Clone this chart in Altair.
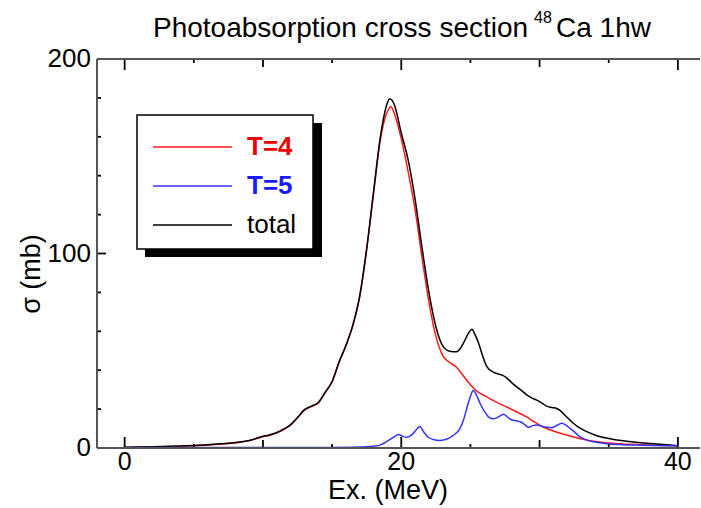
import altair as alt
import pandas as pd

# Photoabsorption cross section of 48Ca (1hw), isospin components and total

# T=4 component
e_t4 = [0, 2, 4, 5, 6, 7, 8, 9, 10, 10.5, 11, 11.5, 12, 12.5, 13, 13.5, 14, 14.5,
        15, 15.5, 16, 16.5, 17, 17.5, 18, 18.5, 19, 19.25, 19.5, 20, 20.5, 21,
        21.5, 22, 22.5, 23, 23.5, 24, 24.5, 25, 25.5, 26, 26.5, 27, 27.5, 28,
        28.5, 29, 29.5, 30, 30.5, 31, 31.5, 32, 33, 34, 35, 36, 37, 38, 39, 40]
s_t4 = [0.3, 0.5, 0.9, 1.2, 1.6, 2.1, 2.6, 3.8, 5.8, 6.6, 7.8, 9.5, 11.8, 15.5,
        19.5, 21.3, 23.2, 28.5, 34, 44, 52.5, 63, 78, 102, 131, 159, 173, 175.5,
        172, 159, 142, 122.5, 98, 75, 57.5, 47.5, 44, 41.5, 37, 32.5, 29, 27,
        25, 23.2, 21.5, 19.8, 18, 16.3, 14, 11.8, 10, 8.7, 7.6, 6.6, 4.7, 3.3,
        2.6, 2.1, 1.8, 1.5, 1.3, 1.1]

# T=5 component
e_t5 = [0, 5, 10, 15, 17, 17.5, 18, 18.5, 19, 19.5, 19.8, 20.1, 20.4, 20.8, 21.1,
        21.35, 21.6, 21.9, 22.3, 22.8, 23.3, 23.8, 24.2, 24.5, 24.8, 25.0, 25.2,
        25.45, 25.7, 26.0, 26.3, 26.6, 26.9, 27.2, 27.4, 27.7, 28.0, 28.3, 28.6,
        28.9, 29.2, 29.5, 29.8, 30.3, 30.9, 31.3, 31.6, 31.9, 32.2, 32.6, 32.9,
        33.4, 33.9, 35, 36, 37, 38, 40]
s_t5 = [0.2, 0.2, 0.2, 0.3, 0.5, 0.6, 0.9, 1.6, 3.5, 5.8, 7.0, 6.0, 5.5, 7.0, 9.5,
        11, 8.5, 5.8, 4.4, 3.9, 4.6, 6.7, 9.5, 14.4, 22, 26.5, 29.5, 27, 22.9,
        19, 16, 15, 15.5, 16.8, 17.3, 15.8, 14.4, 14, 13.5, 12.2, 10.6, 11.5,
        11.8, 10.9, 10.4, 11.8, 12.7, 11.8, 10.1, 7.8, 5.8, 4.2, 3.2, 2.1, 1.7,
        1.5, 1.3, 1.1]

# total
e_tot = [0, 2, 4, 5, 6, 7, 8, 9, 10, 10.5, 11, 11.5, 12, 12.5, 13, 13.5, 14, 14.5,
         15, 15.5, 16, 16.5, 17, 17.5, 18, 18.5, 19, 19.15, 19.5, 20, 20.5, 21,
         21.5, 22, 22.5, 23, 23.5, 24, 24.3, 24.6, 24.9, 25.1, 25.35, 25.6, 25.9,
         26.2, 26.6, 26.9, 27.3, 27.6, 28, 28.35, 28.7, 29.1, 29.5, 29.8, 30.2,
         30.5, 30.9, 31.24, 31.5, 31.7, 32.1, 32.44, 32.9, 33.4, 33.9, 34.4, 35,
         35.6, 36.5, 37.3, 38, 38.7, 39.4, 40]
s_tot = [0.4, 0.6, 1.0, 1.3, 1.7, 2.2, 2.8, 3.9, 6.0, 6.8, 8.0, 9.7, 12.0, 15.7,
         19.7, 21.5, 23.4, 28.7, 34.2, 44.2, 52.8, 63.3, 78.4, 102.6, 132, 160.5,
         177.5, 179.5, 176.5, 162, 148, 128, 103, 80, 62.5, 52.5, 49.8, 49.5,
         51.5, 55.4, 59.5, 61, 58, 53.7, 47, 41.7, 39.3, 38.3, 37.5, 36.2, 33.5,
         31.4, 29.5, 27.2, 25.5, 24.6, 23, 21.5, 20.8, 20.3, 19.2, 17.8, 15,
         12.7, 10.3, 8.4, 7, 5.8, 4.9, 4.1, 3.3, 2.7, 2.3, 1.9, 1.5, 1.2]

# axis ticks (drawn inward) and tick labels
x_ticks_long = [0, 20, 40]
x_ticks_mid = [10, 30]
x_ticks_short = [5, 15, 25, 35]
y_ticks_long = [100]
y_ticks_short = [20, 40, 60, 80, 120, 140, 160, 180]
x_labels = [0, 20, 40]
y_labels = [0, 100, 200]

legend_labels = ["T=4", "T=5", "total"]
RED = "#ff1a1a"
BLUE = "#3333ff"
BLACK = "#000000"

W, H = 603, 389
FONT = "Liberation Sans"

xscale = alt.Scale(domain=[-2, 41.6], nice=False, zero=False)
yscale = alt.Scale(domain=[0, 200], nice=False, zero=False)

one = pd.DataFrame({"k": [0]})


def curve(e, s, color):
    df = pd.DataFrame({"e": e, "s": s})
    return alt.Chart(df).mark_line(color=color, strokeWidth=1.5,
                                   interpolate="monotone").encode(
        x=alt.X("e:Q", scale=xscale, axis=None),
        y=alt.Y("s:Q", scale=yscale, axis=None),
    )


def xticks(values, length):
    df = pd.DataFrame({"e": values})
    base = alt.Chart(df).mark_rule(color="black", strokeWidth=1.8)
    bottom = base.encode(x=alt.X("e:Q", scale=xscale, axis=None),
                         y=alt.value(H), y2=alt.value(H - length))
    top = base.encode(x=alt.X("e:Q", scale=xscale, axis=None),
                      y=alt.value(0), y2=alt.value(length))
    return [bottom, top]


def yticks(values, length):
    df = pd.DataFrame({"s": values})
    return alt.Chart(df).mark_rule(color="black", strokeWidth=1.8).encode(
        y=alt.Y("s:Q", scale=yscale, axis=None),
        x=alt.value(0), x2=alt.value(length))


# tick labels placed through the position scales
xlab = alt.Chart(pd.DataFrame({"e": x_labels})).mark_text(
    font=FONT, fontSize=25, color="black", align="center", baseline="top").encode(
    x=alt.X("e:Q", scale=xscale, axis=None), y=alt.value(H + 2),
    text=alt.Text("e:Q"))
ylab = alt.Chart(pd.DataFrame({"s": y_labels})).mark_text(
    font=FONT, fontSize=26, color="black", align="right", baseline="middle").encode(
    y=alt.Y("s:Q", scale=yscale, axis=None), x=alt.value(-6),
    text=alt.Text("s:Q"))

# axis titles
xtitle = alt.Chart(one).mark_text(
    text="Ex. (MeV)", font=FONT, fontSize=27, color="black", align="center",
    baseline="alphabetic").encode(x=alt.value(291), y=alt.value(H + 51))
ytitle = alt.Chart(one).mark_text(
    text="σ (mb)", font=FONT, fontSize=27, color="black", align="center",
    baseline="alphabetic", angle=270).encode(x=alt.value(-57), y=alt.value(215))

# frame: left, top and bottom spines
frame_color = "#555555"
spines = [
    alt.Chart(one).mark_rule(color=frame_color, strokeWidth=2).encode(
        x=alt.value(0), y=alt.value(0), y2=alt.value(H)),
    alt.Chart(one).mark_rule(color=frame_color, strokeWidth=2).encode(
        x=alt.value(0), x2=alt.value(W), y=alt.value(0)),
    alt.Chart(one).mark_rule(color=frame_color, strokeWidth=2).encode(
        x=alt.value(0), x2=alt.value(W), y=alt.value(H)),
]

ticks = (xticks(x_ticks_long, 11) + xticks(x_ticks_mid, 8) + xticks(x_ticks_short, 4)
         + [yticks(y_ticks_long, 9), yticks(y_ticks_short, 4)])

# legend box with drop shadow
legend = [
    alt.Chart(one).mark_rect(color="black").encode(
        x=alt.value(48), x2=alt.value(225), y=alt.value(64), y2=alt.value(198)),
    alt.Chart(one).mark_rect(fill="white", stroke="black", strokeWidth=1.5).encode(
        x=alt.value(40), x2=alt.value(216), y=alt.value(56), y2=alt.value(190)),
]
legend_colors = [RED, BLUE, BLACK]
legend_text_colors = ["#ee0000", "#1a1aff", "#000000"]
legend_weights = ["bold", "bold", "normal"]
for i, lab in enumerate(legend_labels):
    yy = 88 + i * 39
    legend.append(alt.Chart(one).mark_rule(color=legend_colors[i], strokeWidth=1.5).encode(
        x=alt.value(56), x2=alt.value(135), y=alt.value(yy)))
    legend.append(alt.Chart(one).mark_text(
        text=lab, font=FONT, fontSize=26, fontWeight=legend_weights[i],
        color=legend_text_colors[i], align="left", baseline="middle").encode(
        x=alt.value(150), y=alt.value(yy)))

# chart heading with superscript mass number
heading = [
    alt.Chart(one).mark_text(text="Photoabsorption cross section", font=FONT,
                             fontSize=28, color="black", align="left",
                             baseline="alphabetic").encode(
        x=alt.value(56), y=alt.value(-22)),
    alt.Chart(one).mark_text(text="48", font=FONT, fontSize=16, color="black",
                             align="left", baseline="alphabetic").encode(
        x=alt.value(437), y=alt.value(-36)),
    alt.Chart(one).mark_text(text="Ca 1hw", font=FONT, fontSize=28,
                             color="black", align="left",
                             baseline="alphabetic").encode(
        x=alt.value(459), y=alt.value(-22)),
]

chart = alt.layer(
    curve(e_t4, s_t4, RED),
    curve(e_tot, s_tot, BLACK),
    curve(e_t5, s_t5, BLUE),
    *ticks,
    *spines,
    xlab, ylab, xtitle, ytitle,
    *legend,
    *heading,
).properties(
    width=W, height=H,
    autosize=alt.AutoSizeParams(type="none"),
    padding={"left": 97, "top": 59, "right": 1, "bottom": 60},
).configure_view(stroke=None)

chart.save("out.html", embed_options={"renderer": "svg", "actions": False})
